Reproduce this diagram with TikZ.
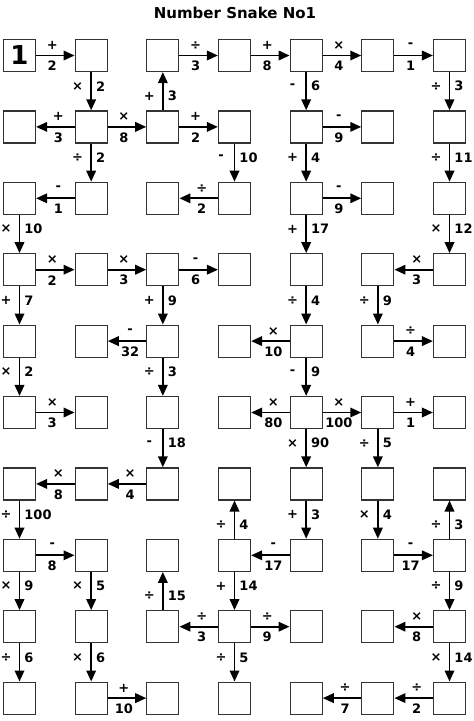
\documentclass[tikz,border=0pt]{standalone}
\usepackage{fontspec}
\setmainfont{DejaVu Sans}
\usetikzlibrary{arrows.meta}
\tikzset{
  box/.style={draw=black!80, line width=1.2pt, minimum size=32pt, inner sep=0pt, fill=white},
  arr/.style={line width=1.9pt, -{Triangle[length=11pt,width=9.5pt]}},
  lab/.style={font=\bfseries\fontsize{13}{13}\selectfont, inner sep=0pt},
}
\newcommand\hlink[4]{\draw[arr] (#1) -- (#2)
  node[lab,pos=0.42,yshift=10pt]{#3}
  node[lab,pos=0.42,yshift=-10.5pt]{#4};}
\newcommand\vlink[4]{\draw[arr] (#1) -- (#2)
  node[lab,pos=0.37,xshift=-13.5pt]{#3}
  node[lab,pos=0.37,anchor=west,xshift=4pt]{#4};}
\begin{document}
\begin{tikzpicture}[x=1pt,y=-1pt]
\useasboundingbox (0,0) rectangle (474,721);
\node[font=\bfseries\fontsize{15}{15}\selectfont] (title) at (235,13) {Number Snake No1};
\foreach \r in {1,...,10}{
  \foreach \c in {1,...,7}{
    \node[box] (b-\r-\c) at ({19.5+(\c-1)*71.67},{55.5+(\r-1)*71.4}) {};
  }
}
\node[font=\bfseries\fontsize{26}{26}\selectfont, inner sep=0pt] (one) at (b-1-1) {1};
% Row 1
\hlink{b-1-1}{b-1-2}{+}{2}
\hlink{b-1-3}{b-1-4}{÷}{3}
\hlink{b-1-4}{b-1-5}{+}{8}
\hlink{b-1-5}{b-1-6}{×}{4}
\hlink{b-1-6}{b-1-7}{-}{1}
\vlink{b-1-2}{b-2-2}{×}{2}
\vlink{b-2-3}{b-1-3}{+}{3}
\vlink{b-1-5}{b-2-5}{-}{6}
\vlink{b-1-7}{b-2-7}{÷}{3}
% Row 2
\hlink{b-2-2}{b-2-1}{+}{3}
\hlink{b-2-2}{b-2-3}{×}{8}
\hlink{b-2-3}{b-2-4}{+}{2}
\hlink{b-2-5}{b-2-6}{-}{9}
\vlink{b-2-2}{b-3-2}{÷}{2}
\vlink{b-2-4}{b-3-4}{-}{10}
\vlink{b-2-5}{b-3-5}{+}{4}
\vlink{b-2-7}{b-3-7}{÷}{11}
% Row 3
\hlink{b-3-2}{b-3-1}{-}{1}
\hlink{b-3-4}{b-3-3}{÷}{2}
\hlink{b-3-5}{b-3-6}{-}{9}
\vlink{b-3-1}{b-4-1}{×}{10}
\vlink{b-3-5}{b-4-5}{+}{17}
\vlink{b-3-7}{b-4-7}{×}{12}
% Row 4
\hlink{b-4-1}{b-4-2}{×}{2}
\hlink{b-4-2}{b-4-3}{×}{3}
\hlink{b-4-3}{b-4-4}{-}{6}
\hlink{b-4-7}{b-4-6}{×}{3}
\vlink{b-4-1}{b-5-1}{+}{7}
\vlink{b-4-3}{b-5-3}{+}{9}
\vlink{b-4-5}{b-5-5}{÷}{4}
\vlink{b-4-6}{b-5-6}{÷}{9}
% Row 5
\hlink{b-5-3}{b-5-2}{-}{32}
\hlink{b-5-5}{b-5-4}{×}{10}
\hlink{b-5-6}{b-5-7}{÷}{4}
\vlink{b-5-1}{b-6-1}{×}{2}
\vlink{b-5-3}{b-6-3}{÷}{3}
\vlink{b-5-5}{b-6-5}{-}{9}
% Row 6
\hlink{b-6-1}{b-6-2}{×}{3}
\hlink{b-6-5}{b-6-4}{×}{80}
\hlink{b-6-5}{b-6-6}{×}{100}
\hlink{b-6-6}{b-6-7}{+}{1}
\vlink{b-6-3}{b-7-3}{-}{18}
\vlink{b-6-5}{b-7-5}{×}{90}
\vlink{b-6-6}{b-7-6}{÷}{5}
% Row 7
\hlink{b-7-3}{b-7-2}{×}{4}
\hlink{b-7-2}{b-7-1}{×}{8}
\vlink{b-7-1}{b-8-1}{÷}{100}
\vlink{b-8-4}{b-7-4}{÷}{4}
\vlink{b-7-5}{b-8-5}{+}{3}
\vlink{b-7-6}{b-8-6}{×}{4}
\vlink{b-8-7}{b-7-7}{÷}{3}
% Row 8
\hlink{b-8-1}{b-8-2}{-}{8}
\hlink{b-8-5}{b-8-4}{-}{17}
\hlink{b-8-6}{b-8-7}{-}{17}
\vlink{b-8-1}{b-9-1}{×}{9}
\vlink{b-8-2}{b-9-2}{×}{5}
\vlink{b-9-3}{b-8-3}{÷}{15}
\vlink{b-8-4}{b-9-4}{+}{14}
\vlink{b-8-7}{b-9-7}{÷}{9}
% Row 9
\hlink{b-9-4}{b-9-3}{÷}{3}
\hlink{b-9-4}{b-9-5}{÷}{9}
\hlink{b-9-7}{b-9-6}{×}{8}
\vlink{b-9-1}{b-10-1}{÷}{6}
\vlink{b-9-2}{b-10-2}{×}{6}
\vlink{b-9-4}{b-10-4}{÷}{5}
\vlink{b-9-7}{b-10-7}{×}{14}
% Row 10
\hlink{b-10-2}{b-10-3}{+}{10}
\hlink{b-10-7}{b-10-6}{÷}{2}
\hlink{b-10-6}{b-10-5}{÷}{7}
\end{tikzpicture}
\end{document}
